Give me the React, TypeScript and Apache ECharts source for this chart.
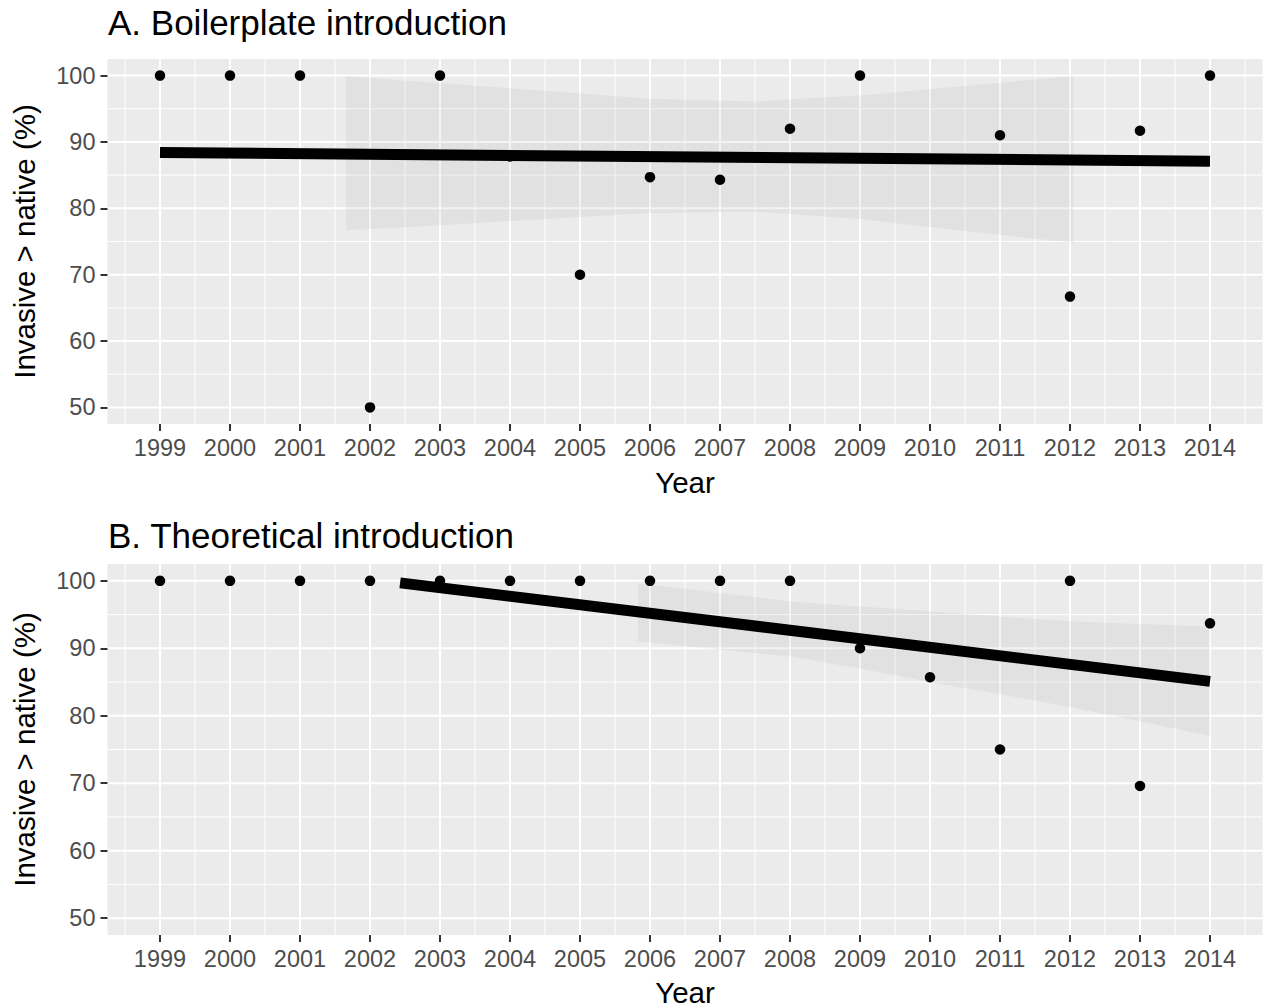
import React, { useEffect, useRef } from "react";
import * as echarts from "echarts";

// ---- axes ----
const yearTicks = [1999, 2000, 2001, 2002, 2003, 2004, 2005, 2006, 2007, 2008, 2009, 2010, 2011, 2012, 2013, 2014];
const yearMinor = [1998.5, 1999.5, 2000.5, 2001.5, 2002.5, 2003.5, 2004.5, 2005.5, 2006.5, 2007.5, 2008.5, 2009.5, 2010.5, 2011.5, 2012.5, 2013.5, 2014.5];
const pctTicks = [50, 60, 70, 80, 90, 100];
const pctMinor = [55, 65, 75, 85, 95];

// ---- A. Boilerplate introduction ----
const boilerYears = [1999, 2000, 2001, 2002, 2003, 2004, 2005, 2006, 2007, 2008, 2009, 2011, 2012, 2013, 2014];
const boilerPct = [100, 100, 100, 50, 100, 87.8, 70, 84.7, 84.3, 92.0, 100, 91.0, 66.7, 91.7, 100];
const boilerFitYears = [1999, 2014];
const boilerFit = [88.4, 87.1];
const boilerBandYears = [2001.66, 2003, 2004.5, 2006, 2007.5, 2009, 2010.5, 2012.05];
const boilerBandLow = [76.7, 77.45, 78.4, 79.3, 79.5, 78.4, 76.6, 74.8];
const boilerBandHigh = [99.9, 98.85, 97.7, 96.5, 96.1, 97.0, 98.45, 99.9];

// ---- B. Theoretical introduction ----
const theoryYears = [1999, 2000, 2001, 2002, 2003, 2004, 2005, 2006, 2007, 2008, 2009, 2010, 2011, 2012, 2013, 2014];
const theoryPct = [100, 100, 100, 100, 100, 100, 100, 100, 100, 100, 90.0, 85.7, 75.0, 100, 69.6, 93.7];
const theoryFitYears = [2002.43, 2014];
const theoryFit = [99.7, 85.1];
const theoryBandYears = [2005.83, 2007, 2008, 2009, 2010, 2011, 2012, 2013, 2014];
const theoryBandLow = [91.05, 89.8, 88.8, 87.0, 85.0, 83.2, 81.3, 79.2, 77.0];
const theoryBandHigh = [99.66, 98.2, 96.95, 96.2, 95.5, 94.7, 94.0, 93.6, 93.2];

const FONT = "'Liberation Sans', Arial, sans-serif";
const X_MIN = 1998.25;
const X_MAX = 2014.75;
const Y_MIN = 47.5;
const Y_MAX = 102.5;

function gridLines(idx: number) {
  const data: number[][] = [
    ...yearTicks.map((v) => [v, 0, 2]),
    ...yearMinor.map((v) => [v, 0, 1]),
    ...pctTicks.map((v) => [v, 1, 2]),
    ...pctMinor.map((v) => [v, 1, 1]),
  ];
  return {
    type: "custom",
    xAxisIndex: idx,
    yAxisIndex: idx,
    silent: true,
    z: 0,
    data,
    encode: { x: 0, y: 0 },
    renderItem: (params: any, api: any) => {
      const v = api.value(0);
      const o = api.value(1);
      const w = api.value(2);
      const cs = params.coordSys;
      let shape;
      if (o === 0) {
        const p = api.coord([v, 75]);
        shape = { x1: p[0], y1: cs.y, x2: p[0], y2: cs.y + cs.height };
      } else {
        const p = api.coord([2006, v]);
        shape = { x1: cs.x, y1: p[1], x2: cs.x + cs.width, y2: p[1] };
      }
      return { type: "line", shape, style: { stroke: "#ffffff", lineWidth: w } };
    },
  };
}

function band(idx: number, xs: number[], lo: number[], hi: number[]) {
  return {
    type: "custom",
    xAxisIndex: idx,
    yAxisIndex: idx,
    silent: true,
    z: 1,
    data: xs.map((x, i) => [x, lo[i], hi[i]]),
    encode: { x: 0, y: [1, 2] },
    renderItem: (params: any, api: any) => {
      if (params.dataIndex !== 0) return null;
      const pts: number[][] = [];
      for (let i = 0; i < xs.length; i++) pts.push(api.coord([xs[i], hi[i]]));
      for (let i = xs.length - 1; i >= 0; i--) pts.push(api.coord([xs[i], lo[i]]));
      return {
        type: "polygon",
        shape: { points: pts },
        style: { fill: "rgba(153,153,153,0.12)", stroke: "none" },
      };
    },
  };
}

function fitLine(idx: number, xs: number[], ys: number[]) {
  return {
    type: "line",
    xAxisIndex: idx,
    yAxisIndex: idx,
    silent: true,
    z: 2,
    symbol: "none",
    data: xs.map((x, i) => [x, ys[i]]),
    lineStyle: { color: "#000000", width: 11, cap: "butt", opacity: 1 },
  };
}

function points(idx: number, xs: number[], ys: number[]) {
  return {
    type: "scatter",
    xAxisIndex: idx,
    yAxisIndex: idx,
    silent: true,
    z: 3,
    symbol: "circle",
    symbolSize: 10.5,
    data: xs.map((x, i) => [x, ys[i]]),
    itemStyle: { color: "#000000", opacity: 1 },
  };
}

function xAxisDef(idx: number, nameGap: number) {
  return {
    type: "value",
    gridIndex: idx,
    min: X_MIN,
    max: X_MAX,
    name: "Year",
    nameLocation: "middle",
    nameGap,
    nameTextStyle: { fontSize: 29.5, color: "#000000", fontFamily: FONT },
    axisLine: { show: false },
    splitLine: { show: false },
    axisTick: { show: true, length: 7, customValues: yearTicks, lineStyle: { color: "#333333", width: 2 } },
    axisLabel: { customValues: yearTicks, margin: 12, fontSize: 23.5, color: "#4D4D4D", fontFamily: FONT, formatter: (v: number) => String(v) },
  };
}

function yAxisDef(idx: number) {
  return {
    type: "value",
    gridIndex: idx,
    min: Y_MIN,
    max: Y_MAX,
    name: "Invasive > native (%)",
    nameLocation: "middle",
    nameRotate: 90,
    nameGap: 68,
    nameTextStyle: { fontSize: 29.5, color: "#000000", fontFamily: FONT },
    axisLine: { show: false },
    splitLine: { show: false },
    axisTick: { show: true, length: 7, customValues: pctTicks, lineStyle: { color: "#333333", width: 2 } },
    axisLabel: { customValues: pctTicks, margin: 12, fontSize: 23.5, color: "#4D4D4D", fontFamily: FONT, formatter: (v: number) => String(v) },
  };
}

export default function App() {
  const ref = useRef<HTMLDivElement>(null);
  useEffect(() => {
    if (!ref.current) return;
    const chart = echarts.init(ref.current, undefined, { renderer: "svg" });
    chart.setOption({
      animation: false,
      backgroundColor: "#ffffff",
      title: [
        { text: "A. Boilerplate introduction", left: 108, top: 5, padding: 0, textStyle: { fontSize: 35, fontWeight: "normal", color: "#000000", fontFamily: FONT } },
        { text: "B. Theoretical introduction", left: 108, top: 518, padding: 0, textStyle: { fontSize: 35, fontWeight: "normal", color: "#000000", fontFamily: FONT } },
      ],
      grid: [
        { left: 107.5, top: 59, width: 1155, height: 365, show: true, backgroundColor: "#EBEBEB", borderWidth: 0 },
        { left: 107.5, top: 564, width: 1155, height: 373, show: true, backgroundColor: "#EBEBEB", borderWidth: 0 },
      ],
      xAxis: [xAxisDef(0, 43), xAxisDef(1, 42)],
      yAxis: [yAxisDef(0), yAxisDef(1)],
      series: [
        gridLines(0),
        band(0, boilerBandYears, boilerBandLow, boilerBandHigh),
        fitLine(0, boilerFitYears, boilerFit),
        points(0, boilerYears, boilerPct),
        gridLines(1),
        band(1, theoryBandYears, theoryBandLow, theoryBandHigh),
        fitLine(1, theoryFitYears, theoryFit),
        points(1, theoryYears, theoryPct),
      ],
    });
    return () => chart.dispose();
  }, []);
  return <div ref={ref} style={{ position: "fixed", left: 0, top: 0, width: 1264, height: 1008 }} />;
}
